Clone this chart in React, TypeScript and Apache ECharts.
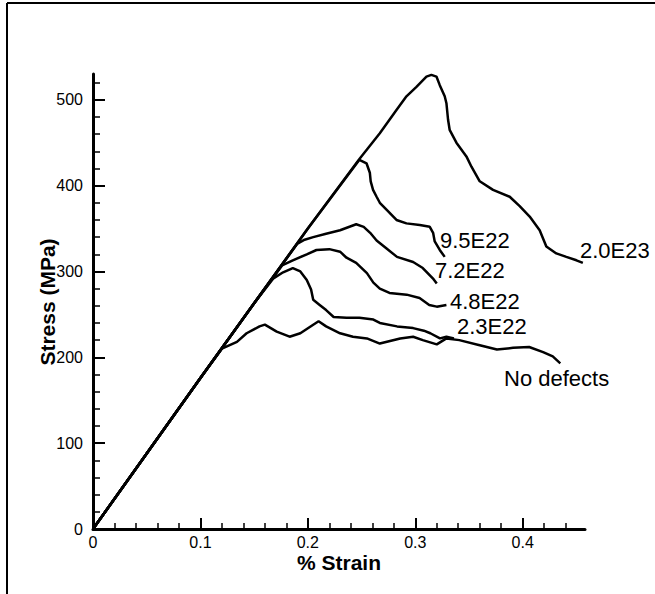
import React, { useEffect, useRef } from "react";
import * as echarts from "echarts";

// ---- axis ticks ----
const xMajorTicks = [0, 0.1, 0.2, 0.3, 0.4];
const xMinorTicks = [0.02, 0.04, 0.06, 0.08, 0.12, 0.14, 0.16, 0.18, 0.22, 0.24, 0.26, 0.28, 0.32, 0.34, 0.36, 0.38, 0.42, 0.44];
const yMajorTicks = [0, 100, 200, 300, 400, 500];
const yMinorTicks = [20, 40, 60, 80, 120, 140, 160, 180, 220, 240, 260, 280, 320, 340, 360, 380, 420, 440, 460, 480, 520];

// ---- series (strain %, stress MPa) ----
const strainNoDefects = [0, 0.05, 0.1, 0.12, 0.134, 0.143, 0.155, 0.16, 0.171, 0.183, 0.193, 0.205, 0.21, 0.217, 0.23, 0.242, 0.255, 0.267, 0.286, 0.298, 0.307, 0.32, 0.329, 0.341, 0.36, 0.376, 0.391, 0.406, 0.419, 0.428, 0.435];
const stressNoDefects = [0, 88, 176, 210, 218, 228, 236, 238, 230, 224, 228, 238, 242, 236, 228, 224, 222, 216, 222, 224, 220, 215, 222, 220, 214, 209, 211, 212, 206, 201, 193];

const strain23E22 = [0, 0.05, 0.1, 0.15, 0.168, 0.177, 0.186, 0.193, 0.199, 0.203, 0.205, 0.211, 0.217, 0.224, 0.236, 0.248, 0.261, 0.267, 0.283, 0.298, 0.308, 0.314, 0.323, 0.329, 0.336];
const stress23E22 = [0, 88, 176, 263, 292, 299, 304, 300, 290, 279, 267, 261, 255, 247, 246, 246, 244, 240, 236, 234, 231, 228, 222, 224, 222];

const strain48E22 = [0, 0.05, 0.1, 0.15, 0.176, 0.186, 0.199, 0.208, 0.22, 0.23, 0.236, 0.245, 0.255, 0.261, 0.267, 0.276, 0.292, 0.304, 0.313, 0.32, 0.329];
const stress48E22 = [0, 88, 176, 263, 307, 313, 320, 325, 326, 323, 316, 310, 298, 287, 280, 275, 273, 269, 261, 259, 261];

const strain72E22 = [0, 0.05, 0.1, 0.15, 0.19, 0.197, 0.205, 0.217, 0.23, 0.245, 0.252, 0.258, 0.264, 0.273, 0.283, 0.298, 0.307, 0.317, 0.32];
const stress72E22 = [0, 88, 176, 263, 332, 337, 340, 344, 348, 355, 352, 345, 336, 327, 317, 311, 304, 291, 286];

const strain95E22 = [0, 0.05, 0.1, 0.15, 0.2, 0.248, 0.2546, 0.2577, 0.2585, 0.2607, 0.264, 0.267, 0.2732, 0.2825, 0.2918, 0.3042, 0.3135, 0.3166, 0.3181, 0.3228, 0.3274];
const stress95E22 = [0, 88, 176, 263, 350, 430, 426, 415, 405, 395, 387, 380, 372, 360, 356, 354, 352, 345, 335, 325, 317];

const strain20E23 = [0, 0.05, 0.1, 0.15, 0.2, 0.248, 0.267, 0.2825, 0.2918, 0.3011, 0.3104, 0.315, 0.3197, 0.3228, 0.3274, 0.329, 0.3305, 0.332, 0.3383, 0.3476, 0.3523, 0.36, 0.3724, 0.3879, 0.3972, 0.4065, 0.4158, 0.422, 0.4313, 0.4406, 0.45, 0.456];
const stress20E23 = [0, 88, 176, 263, 350, 431, 461, 488, 504, 515, 527, 529, 527, 517, 504, 496, 477, 465, 450, 434, 422, 405, 395, 387, 376, 364, 348, 329, 321, 317, 313, 310];

const seriesNames = ["No defects", "2.3E22", "4.8E22", "7.2E22", "9.5E22", "2.0E23"];
const seriesStrain = [strainNoDefects, strain23E22, strain48E22, strain72E22, strain95E22, strain20E23];
const seriesStress = [stressNoDefects, stress23E22, stress48E22, stress72E22, stress95E22, stress20E23];

const xAxisTitle = "% Strain";
const yAxisTitle = "Stress (MPa)";

const LABEL_FONT = "22px 'Liberation Sans', Arial, Helvetica, sans-serif";
const TICK_FONT = "'Liberation Sans', Arial, Helvetica, sans-serif";
const TITLE_FONT = "bold 21px 'Liberation Sans', Arial, Helvetica, sans-serif";

// curve label anchors (left edge, vertical middle), in page pixels
const labelAnchors: Record<string, [number, number]> = {
  "9.5E22": [440, 240],
  "7.2E22": [435, 270],
  "4.8E22": [450, 301],
  "2.3E22": [457, 326],
  "No defects": [504, 378],
  "2.0E23": [580, 250],
};

const fmtX = (v: number) => (v === 0 ? "0" : String(Math.round(v * 10) / 10));

export default function App() {
  const ref = useRef<HTMLDivElement>(null);
  useEffect(() => {
    if (!ref.current) return;
    const chart = echarts.init(ref.current, null, { renderer: "svg" });
    const axisLineStyle = { color: "#000", width: 3 };
    const option: any = {
      animation: false,
      backgroundColor: "#fff",
      grid: { left: 93, top: 74, width: 492, height: 455, containLabel: false },
      xAxis: [
        {
          type: "value",
          min: 0,
          max: 0.458,
          interval: 0.1,
          axisLine: { show: true, onZero: false, lineStyle: axisLineStyle },
          axisTick: { show: true, inside: true, length: 11, customValues: xMajorTicks, lineStyle: { color: "#000", width: 2 } },
          axisLabel: {
            show: true,
            customValues: xMajorTicks,
            margin: 5,
            color: "#000",
            fontSize: 16,
            fontFamily: TICK_FONT,
            formatter: (v: number) => (xMajorTicks.some((t) => Math.abs(t - v) < 1e-9) ? fmtX(v) : ""),
          },
          splitLine: { show: false },
        },
        {
          type: "value",
          min: 0,
          max: 0.458,
          position: "bottom",
          axisLine: { show: false },
          axisTick: { show: true, inside: true, length: 6, customValues: xMinorTicks, lineStyle: { color: "#000", width: 1.5 } },
          axisLabel: { show: false },
          splitLine: { show: false },
        },
      ],
      yAxis: [
        {
          type: "value",
          min: 0,
          max: 530,
          interval: 100,
          axisLine: { show: true, onZero: false, lineStyle: axisLineStyle },
          axisTick: { show: true, inside: true, length: 12, customValues: yMajorTicks, lineStyle: { color: "#000", width: 2 } },
          axisLabel: {
            show: true,
            customValues: yMajorTicks,
            margin: 10,
            color: "#000",
            fontSize: 16,
            fontFamily: TICK_FONT,
            formatter: (v: number) => (yMajorTicks.includes(v) ? String(v) : ""),
          },
          splitLine: { show: false },
        },
        {
          type: "value",
          min: 0,
          max: 530,
          position: "left",
          axisLine: { show: false },
          axisTick: { show: true, inside: true, length: 7, customValues: yMinorTicks, lineStyle: { color: "#000", width: 1.5 } },
          axisLabel: { show: false },
          splitLine: { show: false },
        },
      ],
      series: seriesNames.map((name, i) => ({
        name,
        type: "line",
        xAxisIndex: 0,
        yAxisIndex: 0,
        showSymbol: false,
        symbol: "none",
        smooth: false,
        lineStyle: { color: "#000", width: 2.5 },
        data: seriesStrain[i].map((s, j) => [s, seriesStress[i][j]]),
        z: 3,
      })),
      graphic: [
        { type: "line", shape: { x1: 7, y1: 3, x2: 7, y2: 700 }, style: { stroke: "#000", lineWidth: 2 } },
        { type: "line", shape: { x1: 7, y1: 3, x2: 700, y2: 3 }, style: { stroke: "#000", lineWidth: 2 } },
        ...seriesNames.map((name) => ({
          type: "text",
          x: labelAnchors[name][0],
          y: labelAnchors[name][1],
          style: { text: name, font: LABEL_FONT, fill: "#000", align: "left", verticalAlign: "middle" },
        })),
        {
          type: "text",
          x: 339,
          y: 562,
          style: { text: xAxisTitle, font: TITLE_FONT, fill: "#000", align: "center", verticalAlign: "middle" },
        },
        {
          type: "text",
          x: 47,
          y: 302,
          rotation: Math.PI / 2,
          style: { text: yAxisTitle, font: TITLE_FONT, fill: "#000", align: "center", verticalAlign: "middle" },
        },
      ],
    };
    chart.setOption(option);
    return () => chart.dispose();
  }, []);
  return (
    <div
      ref={ref}
      style={{ position: "fixed", left: 0, top: 0, width: 655, height: 594, background: "#fff" }}
    />
  );
}
